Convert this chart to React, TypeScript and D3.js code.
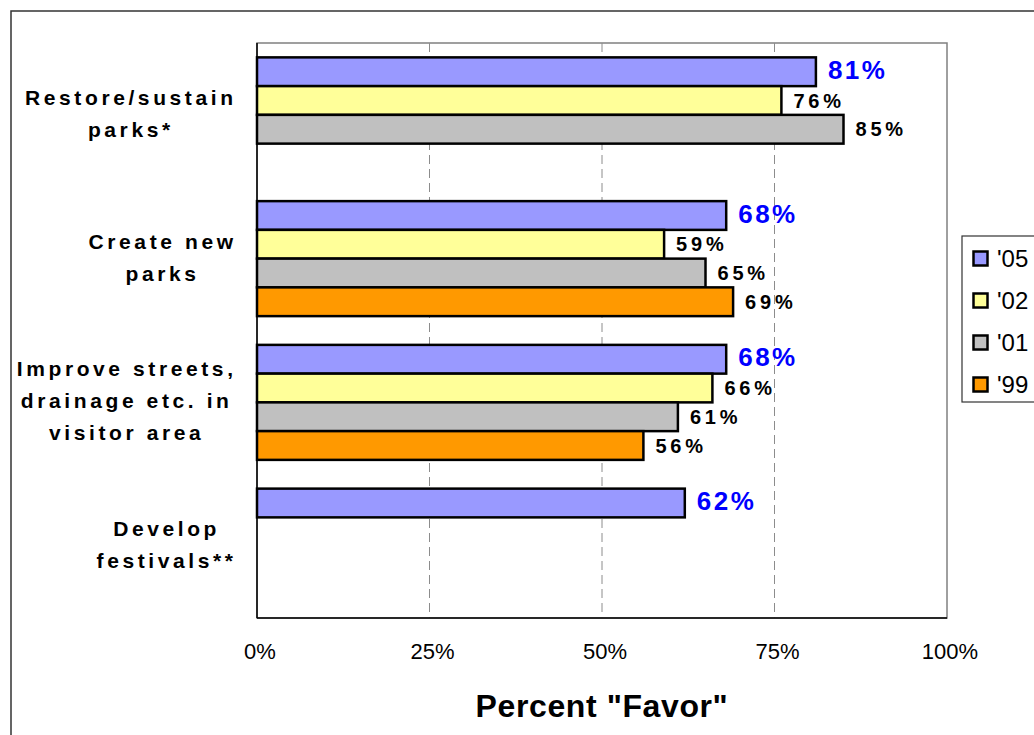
import React, { useMemo } from "react";
import * as d3 from "d3";

const categories: string[][] = [
  ["Restore/sustain", "parks*"],
  ["Create new", "parks"],
  ["Improve streets,", "drainage etc. in", "visitor area"],
  ["Develop", "festivals**"],
];
const seriesNames = ["'05", "'02", "'01", "'99"];
const v05 = [81, 68, 68, 62];
const v02: (number | null)[] = [76, 59, 66, null];
const v01: (number | null)[] = [85, 65, 61, null];
const v99: (number | null)[] = [null, 69, 56, null];
const seriesValues = [v05, v02, v01, v99];
const seriesColors = ["#9999FF", "#FFFF99", "#C0C0C0", "#FF9900"];
const xTicks = [0, 25, 50, 75, 100];
const axisTitle = 'Percent "Favor"';

const W = 1034;
const H = 735;
const plot = { left: 257, right: 947, top: 43, bottom: 618 };
const FONT = "'Liberation Sans', Arial, sans-serif";
const CAT_FS = 21;
const CAT_LS = 3.6;

function measure(text: string, font: string, ls: number): number {
  const c = document.createElement("canvas");
  const ctx = c.getContext("2d");
  if (!ctx) return text.length * 10;
  ctx.font = font;
  return ctx.measureText(text).width + ls * text.length;
}

export default function App() {
  const x = d3.scaleLinear().domain([0, 100]).range([plot.left, plot.right]);
  const y = d3
    .scaleBand<number>()
    .domain(categories.map((_, i) => i))
    .range([plot.top, plot.bottom])
    .padding(0);
  const inner = d3
    .scaleBand<number>()
    .domain(seriesNames.map((_, i) => i))
    .range([0, y.bandwidth()])
    .paddingInner(0)
    .paddingOuter(0.5);

  const catCenters = useMemo(() => {
    return categories.map((lines) => {
      const maxW = d3.max(lines, (l) => measure(l, `bold ${CAT_FS}px 'Liberation Sans'`, CAT_LS)) || 0;
      return 233 + CAT_LS - maxW / 2;
    });
  }, []);

  const lineH = 32;

  return (
    <svg
      width={W}
      height={H}
      style={{ position: "absolute", left: 0, top: 0, background: "#fff" }}
      fontFamily={FONT}
    >
      <rect x={0} y={0} width={W} height={H} fill="#fff" />
      {/* outer border */}
      <rect x={11} y={11} width={1040} height={740} fill="none" stroke="#333" strokeWidth={1.5} />

      {/* plot area */}
      <rect
        x={plot.left}
        y={plot.top}
        width={plot.right - plot.left}
        height={plot.bottom - plot.top}
        fill="#fff"
        stroke="#808080"
        strokeWidth={1.5}
      />
      {/* gridlines */}
      {xTicks
        .filter((t) => t > 0 && t < 100)
        .map((t) => (
          <line
            key={t}
            x1={x(t)}
            x2={x(t)}
            y1={plot.top}
            y2={plot.bottom}
            stroke="#8c8c8c"
            strokeWidth={1}
            strokeDasharray="9,5"
          />
        ))}

      {/* bars */}
      {categories.map((_, ci) =>
        seriesValues.map((vals, si) => {
          const v = vals[ci];
          if (v == null) return null;
          const by = (y(ci) as number) + (inner(si) as number);
          const bh = inner.bandwidth();
          return (
            <rect
              key={`${ci}-${si}`}
              x={x(0)}
              y={by}
              width={x(v) - x(0)}
              height={bh}
              fill={seriesColors[si]}
              stroke="#000"
              strokeWidth={2.5}
            />
          );
        })
      )}

      {/* value labels */}
      {categories.map((_, ci) =>
        seriesValues.map((vals, si) => {
          const v = vals[ci];
          if (v == null) return null;
          const cy = (y(ci) as number) + (inner(si) as number) + inner.bandwidth() / 2;
          const blue = si === 0;
          return (
            <text
              key={`l-${ci}-${si}`}
              x={x(v) + 12}
              y={cy + 7}
              fontSize={blue ? 26 : 20}
              fontWeight="bold"
              letterSpacing={blue ? 2.5 : 3.8}
              fill={blue ? "#0000FF" : "#000"}
            >
              {`${v}%`}
            </text>
          );
        })
      )}

      {/* axes lines */}
      <line x1={plot.left} x2={plot.left} y1={plot.top} y2={plot.bottom} stroke="#000" strokeWidth={1.5} />
      <line x1={plot.left} x2={plot.right} y1={plot.bottom} y2={plot.bottom} stroke="#000" strokeWidth={1.5} />

      {/* x tick labels */}
      {xTicks.map((t) => (
        <text key={`t-${t}`} x={x(t) + 3} y={659} fontSize={22} textAnchor="middle" fill="#000">
          {`${t}%`}
        </text>
      ))}

      {/* axis title */}
      <text
        x={(plot.left + plot.right) / 2}
        y={717}
        fontSize={32}
        fontWeight="bold"
        letterSpacing={0.6}
        textAnchor="middle"
        fill="#000"
      >
        {axisTitle}
      </text>

      {/* category labels */}
      {categories.map((lines, ci) => {
        const cy = (y(ci) as number) + y.bandwidth() / 2;
        const first = cy - ((lines.length - 1) * lineH) / 2 + 6;
        return (
          <text
            key={`c-${ci}`}
            fontSize={CAT_FS}
            fontWeight="bold"
            letterSpacing={CAT_LS}
            textAnchor="middle"
            fill="#000"
          >
            {lines.map((l, li) => (
              <tspan key={li} x={catCenters[ci]} y={first + li * lineH}>
                {l}
              </tspan>
            ))}
          </text>
        );
      })}

      {/* legend */}
      <rect x={962} y={236} width={100} height={166} fill="#fff" stroke="#333" strokeWidth={1.2} />
      {seriesNames.map((s, i) => {
        const cy = 258.5 + i * 42;
        return (
          <g key={`lg-${i}`}>
            <rect x={973.5} y={cy - 7} width={14} height={14} fill={seriesColors[i]} stroke="#000" strokeWidth={2.5} />
            <text x={997} y={cy + 8.5} fontSize={24} fill="#000">
              {s}
            </text>
          </g>
        );
      })}
    </svg>
  );
}
